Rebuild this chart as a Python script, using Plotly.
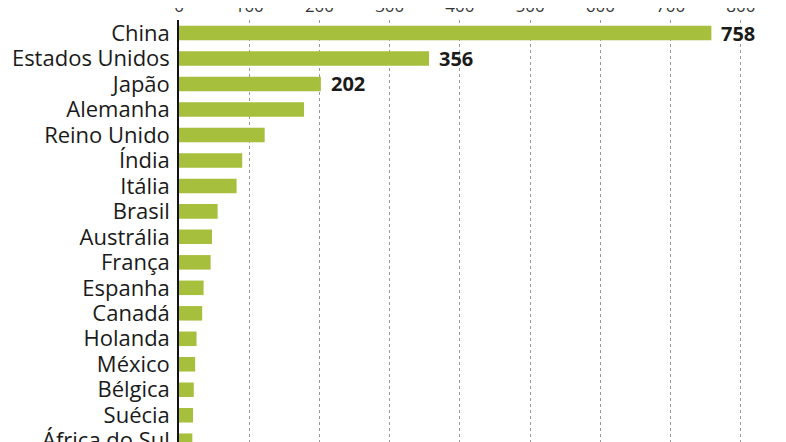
import plotly.graph_objects as go

# paises e valores
countries = ['China', 'Estados Unidos', 'Japão', 'Alemanha', 'Reino Unido', 'Índia',
             'Itália', 'Brasil', 'Austrália', 'França', 'Espanha', 'Canadá', 'Holanda',
             'México', 'Bélgica', 'Suécia', 'África do Sul']
values = [758, 356, 202, 178, 122, 90, 82, 55, 47, 45, 35, 33, 25, 23, 21, 20, 19]
labelled = ['China', 'Estados Unidos', 'Japão']
xticks = [0, 100, 200, 300, 400, 500, 600, 700, 800]

fig = go.Figure(go.Bar(
    x=values, y=countries, orientation='h',
    marker=dict(color='#a6bf3c', line=dict(width=0)),
    hoverinfo='skip',
))

# valores em negrito ao lado das barras maiores
for c, v in zip(countries, values):
    if c in labelled:
        fig.add_annotation(x=v, y=c, text='<b>%d</b>' % v, showarrow=False,
                           xanchor='left', xshift=8,
                           font=dict(family='Open Sans', size=20, color='#1a1a1a'))

# a pagina tem 8px de margem no body, por isso os valores abaixo compensam
fig.update_layout(
    width=786, height=442,
    margin=dict(l=171, r=18, t=12, b=8, autoexpand=False),
    paper_bgcolor='white', plot_bgcolor='white',
    font=dict(family='Open Sans', color='#1a1a1a'),
    bargap=0.43,
    showlegend=False,
)
fig.update_xaxes(
    side='top', range=[0, 850], tickvals=xticks, automargin=False,
    showgrid=True, gridcolor='#999999', gridwidth=1, griddash='dot',
    zeroline=False, showline=False,
    ticks='', ticklabelstandoff=4,
    tickfont=dict(size=17, color='#333333'),
)
fig.update_yaxes(
    type='category', range=[16.05, -0.51], automargin=False,
    tickmode='array', tickvals=countries,
    showgrid=False, zeroline=False,
    showline=True, linecolor='#111111', linewidth=1.5,
    ticks='', ticklabelstandoff=3,
    tickfont=dict(size=22, color='#1a1a1a'),
)

fig.write_html('out.html')
